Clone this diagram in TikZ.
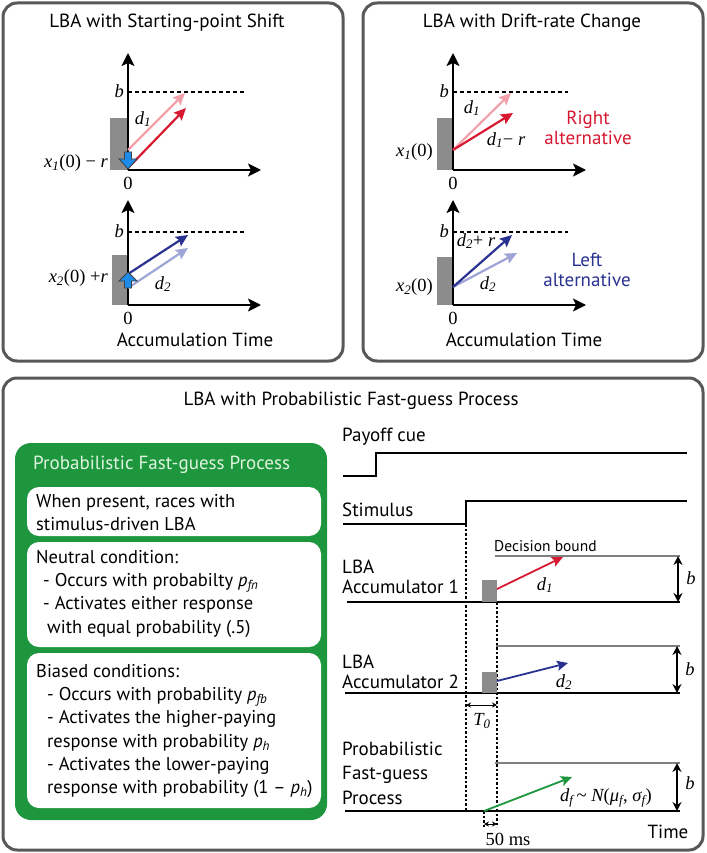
\documentclass[tikz,border=0pt]{standalone}
\usepackage{fontspec}
\setmainfont{PT Sans}
\newfontfamily\tms{Liberation Serif}
\usetikzlibrary{arrows.meta}
\definecolor{boxgray}{RGB}{88,88,88}
\definecolor{lbared}{RGB}{214,24,48}
\definecolor{lbapink}{RGB}{241,160,172}
\definecolor{lbablue}{RGB}{42,50,145}
\definecolor{lbasky}{RGB}{158,164,214}
\definecolor{fgreen}{RGB}{30,150,62}
\definecolor{fpale}{RGB}{222,244,222}
\definecolor{cueblue}{RGB}{28,140,232}
\definecolor{rectgray}{RGB}{140,140,140}
\newcommand{\tv}[1]{{\itshape #1}}
\newcommand{\tsb}[1]{\textsubscript{\itshape #1}}
\tikzset{
	panel/.style={draw=boxgray, line width=3pt, rounded corners=14pt},
	txt/.style={font=\fontsize{19}{20}\selectfont, inner sep=0pt},
	gtxt/.style={font=\fontsize{18.5}{23.3}\selectfont, inner sep=0pt, anchor=north west, align=left},
	mlab/.style={font=\tms\fontsize{18.5}{22}\selectfont, inner sep=0pt},
	axis/.style={line width=2pt, -{Stealth[length=13pt, width=13pt, inset=3pt]}},
	bound/.style={line width=1.3pt, dash pattern=on 4pt off 3pt},
	drift/.style={line width=2.2pt, -{Stealth[length=12pt, width=11pt, inset=2pt]}},
	cuearrow/.style={fill=cueblue, draw=black!75, line width=0.8pt},
	signal/.style={line width=2.5pt},
	gline/.style={line width=1.5pt, draw=black!50},
	dotline/.style={line width=1.2pt, dash pattern=on 2.5pt off 2pt},
	rise/.style={line width=1.8pt, -{Stealth[length=11pt, width=10pt, inset=2pt]}},
	barrow/.style={line width=1.6pt, {Stealth[length=9pt, width=9pt]}-{Stealth[length=9pt, width=9pt]}},
	tick/.style={line width=0.9pt, {Stealth[length=5pt, width=5pt]}-{Stealth[length=5pt, width=5pt]}}
}
\begin{document}
\begin{tikzpicture}[x=1pt, y=-1pt]
	\useasboundingbox (0,0) rectangle (706,853);

	\draw[panel] (3,3) rectangle (343,361);
	\node[txt] (T1) at (167,23) {LBA with Starting-point Shift};
	\fill[rectgray] (110,118) rectangle (128,170);
	\coordinate (O1) at (128,170);
	\draw[axis] (O1) -- (128,53);
	\draw[axis] (O1) -- (261,170);
	\draw[bound] (128,92) -- (245,92);
	\node[mlab, anchor=east] (B1) at (124,91) {\tv{b}};
	\node[mlab] (Z1) at (128,183) {0};
	\node[mlab, anchor=east] (X1) at (108,163) {\tv{x}\tsb{1}(0) − \tv{r}};
	\draw[drift, lbapink] (128,150) -- (185,93);
	\draw[drift, lbared] (128,168) -- (186,108);
	\node[mlab] (D1) at (143,119) {\tv{d}\tsb{1}};
	\draw[cuearrow] (124.5,152) -- (131.5,152) -- (131.5,159) -- (137,159) -- (128,169) -- (119,159) -- (124.5,159) -- cycle;

	\fill[rectgray] (112,255) rectangle (128,305);
	\coordinate (O2) at (128,305);
	\draw[axis] (O2) -- (128,200);
	\draw[axis] (O2) -- (261,305);
	\draw[bound] (128,232) -- (245,232);
	\node[mlab, anchor=east] (B2) at (124,231) {\tv{b}};
	\node[mlab] (Z2) at (128,318) {0};
	\node[mlab, anchor=east] (X2) at (108,278) {\tv{x}\tsb{2}(0) +\tv{r}};
	\draw[drift, lbasky] (128,288) -- (188,248);
	\draw[drift, lbablue] (128,274) -- (188,235);
	\node[mlab] (D2) at (163,284) {\tv{d}\tsb{2}};
	\draw[cuearrow] (124.5,288) -- (131.5,288) -- (131.5,281) -- (137,281) -- (128,272) -- (119,281) -- (124.5,281) -- cycle;
	\node[txt] (A1) at (195,340) {Accumulation Time};

	\draw[panel] (363,3) rectangle (703,361);
	\node[txt] (T2) at (532,23) {LBA with Drift-rate Change};
	\fill[rectgray] (437,118) rectangle (453,170);
	\coordinate (O3) at (453,170);
	\draw[axis] (O3) -- (453,53);
	\draw[axis] (O3) -- (586,170);
	\draw[bound] (453,92) -- (568,92);
	\node[mlab, anchor=east] (B3) at (449,91) {\tv{b}};
	\node[mlab] (Z3) at (453,183) {0};
	\node[mlab, anchor=east] (X3) at (433,152) {\tv{x}\tsb{1}(0)};
	\draw[drift, lbapink] (453,150) -- (511,93);
	\draw[drift, lbared] (453,150) -- (513,113);
	\node[mlab] (D3) at (472,108) {\tv{d}\tsb{1}};
	\node[mlab] (D4) at (506,140) {\tv{d}\tsb{1}− \tv{r}};
	\node[txt, text=lbared, align=center] (R1) at (588,128) {Right\\alternative};

	\fill[rectgray] (437,257) rectangle (453,305);
	\coordinate (O4) at (453,305);
	\draw[axis] (O4) -- (453,200);
	\draw[axis] (O4) -- (586,305);
	\draw[bound] (453,232) -- (568,232);
	\node[mlab, anchor=east] (B4) at (449,231) {\tv{b}};
	\node[mlab] (Z4) at (453,318) {0};
	\node[mlab, anchor=east] (X4) at (433,287) {\tv{x}\tsb{2}(0)};
	\draw[drift, lbasky] (453,287) -- (517,253);
	\draw[drift, lbablue] (453,287) -- (512,235);
	\node[mlab] (D5) at (476,241) {\tv{d}\tsb{2}+ \tv{r}};
	\node[mlab] (D6) at (488,284) {\tv{d}\tsb{2}};
	\node[txt, text=lbablue, align=center] (L1) at (587,270) {Left\\alternative};
	\node[txt] (A2) at (524,340) {Accumulation Time};

	\draw[panel] (3,378) rectangle (703,850);
	\node[txt] (T3) at (351,401) {LBA with Probabilistic Fast-guess Process};

	\fill[fgreen, rounded corners=16pt] (15,443) rectangle (327,820);
	\node[txt, text=fpale, anchor=west] (G0) at (33,465) {Probabilistic Fast-guess Process};
	\fill[white, rounded corners=12pt] (27,487) rectangle (321,536);
	\fill[white, rounded corners=12pt] (27,542) rectangle (321,647);
	\fill[white, rounded corners=12pt] (27,653) rectangle (321,808);
	\node[gtxt] (G1) at (36,494) {When present, races with\\stimulus-driven LBA};
	\node[gtxt] (G2) at (36,550) {Neutral condition:\\\hspace*{7pt}- Occurs with probabilty \textit{p}\textsubscript{\textit{fn}}\\\hspace*{7pt}- Activates either response\\\hspace*{11pt}with equal probability (.5)};
	\node[gtxt] (G3) at (36,664) {Biased conditions:\\\hspace*{11pt}- Occurs with probability \textit{p}\textsubscript{\textit{fb}}\\\hspace*{11pt}- Activates the higher-paying\\\hspace*{11pt}response with probability \textit{p}\textsubscript{\textit{h}}\\\hspace*{11pt}- Activates the lower-paying\\\hspace*{11pt}response with probability (1 – \textit{p}\textsubscript{\textit{h}})};

	\node[txt, anchor=west] (P0) at (342,437) {Payoff cue};
	\draw[signal] (343,476) -- (376,476) -- (376,453) -- (687,453);
	\node[txt, anchor=west] (S0) at (342,510) {Stimulus};
	\draw[signal] (343,524) -- (466,524) -- (466,501) -- (687,501);
	\draw[dotline] (466,524) -- (466,811);
	\draw[dotline] (497,602) -- (497,827);
	\draw[dotline] (484,811) -- (484,827);

	\node[txt, anchor=west, align=left] (L1a) at (342,577) {LBA\\Accumulator 1};
	\draw[gline] (495,556) -- (680,556);
	\node[txt, anchor=west, font=\fontsize{15.5}{18}\selectfont] (DB) at (494,546) {Decision bound};
	\draw[signal] (347,602) -- (680,602);
	\fill[rectgray] (482,580) rectangle (497,602);
	\draw[rise, lbared] (497,589) -- (563,557);
	\node[mlab] (E1) at (545,585) {\tv{d}\tsb{1}};
	\draw[barrow] (678,556) -- (678,602);
	\node[mlab] (H1) at (691,578) {\tv{b}};

	\node[txt, anchor=west, align=left] (L2a) at (342,672) {LBA\\Accumulator 2};
	\draw[gline] (496,646) -- (680,646);
	\draw[signal] (345,693) -- (680,693);
	\fill[rectgray] (482,672) rectangle (497,693);
	\draw[rise, lbablue] (497,681) -- (568,663);
	\node[mlab] (E2) at (564,682) {\tv{d}\tsb{2}};
	\draw[barrow] (677,646) -- (677,693);
	\node[mlab] (H2) at (690,669) {\tv{b}};
	\draw[tick] (466,705) -- (497,705);
	\node[mlab] (T0) at (482,721) {\tv{T}\tsb{0}};

	\node[txt, anchor=west, align=left, font=\fontsize{19}{24.5}\selectfont] (L3a) at (342,773) {Probabilistic\\Fast-guess\\Process};
	\draw[gline] (495,763) -- (680,763);
	\draw[signal] (345,811) -- (680,811);
	\draw[rise, fgreen] (484,811) -- (572,777);
	\node[mlab] (E3) at (606,798) {\tv{d}\tsb{f}\,\textasciitilde\ \tv{N}(\tv{μ}\tsb{f}, \tv{σ}\tsb{f})};
	\draw[barrow] (677,763) -- (677,811);
	\node[mlab] (H3) at (690,783) {\tv{b}};
	\draw[tick] (484,824) -- (497,824);
	\node[mlab] (MS) at (508,839) {50 ms};
	\node[txt] (TM) at (668,832) {Time};

\end{tikzpicture}
\end{document}
